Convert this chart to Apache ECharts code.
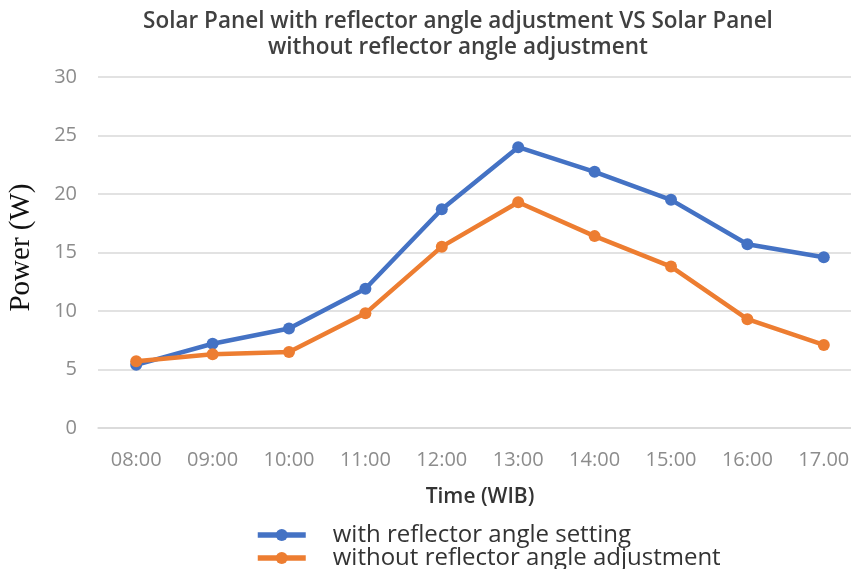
<!DOCTYPE html>
<html>
<head>
<meta charset="utf-8">
<script src="https://cdn.jsdelivr.net/npm/echarts@6/dist/echarts.min.js"></script>
<style>
html,body{margin:0;padding:0;background:#fff;}
#chart{width:851px;height:569px;}
</style>
</head>
<body>
<div id="chart"></div>
<script>
var categories = ["08:00","09:00","10:00","11:00","12:00","13:00","14:00","15:00","16:00","17.00"];
var withReflector = [5.4, 7.2, 8.5, 11.9, 18.7, 24.0, 21.9, 19.5, 15.7, 14.6];
var withoutReflector = [5.7, 6.3, 6.5, 9.8, 15.5, 19.3, 16.4, 13.8, 9.3, 7.1];
var seriesNames = ["with reflector angle setting", "without reflector angle adjustment"];
var titleText = "Solar Panel with reflector angle adjustment VS Solar Panel\nwithout reflector angle adjustment";

var legendBase = {
  orient: 'horizontal',
  left: 255,
  padding: 0,
  itemWidth: 48,
  itemHeight: 15,
  lineStyle: {width: 5.5},
  textStyle: {fontFamily: 'Open Sans', fontSize: 24, color: '#333333', lineHeight: 22, padding: [0,0,0,22]}
};

var chart = echarts.init(document.getElementById('chart'));
chart.setOption({
  backgroundColor: '#ffffff',
  animation: false,
  title: {
    text: titleText,
    left: 453,
    textAlign: 'center',
    top: 4,
    textStyle: {fontFamily: 'Open Sans', fontSize: 22.5, fontWeight: 600, color: '#404040', lineHeight: 26}
  },
  grid: {left: 98, top: 77, height: 351, right: -11, containLabel: false, outerBoundsMode: 'none'},
  xAxis: {
    type: 'category',
    data: categories,
    boundaryGap: true,
    name: 'Time (WIB)',
    nameLocation: 'middle',
    nameGap: 59,
    nameTextStyle: {fontFamily: 'Open Sans', fontSize: 21, fontWeight: 600, color: '#333333'},
    axisLine: {show: true, lineStyle: {color: '#d9d9d9', width: 1.5}},
    axisTick: {show: false},
    axisLabel: {fontFamily: 'Open Sans', fontSize: 20, color: '#8c8c8c', margin: 22}
  },
  yAxis: {
    type: 'value',
    min: 0, max: 30, interval: 5,
    name: 'Power (W)',
    nameLocation: 'middle',
    nameGap: 62,
    nameRotate: 90,
    nameTextStyle: {fontFamily: 'Liberation Serif', fontSize: 29, color: '#111111', padding: [0, 0, 0, 10]},
    axisLine: {show: false},
    axisTick: {show: false},
    splitLine: {lineStyle: {color: '#d9d9d9', width: 1.5}},
    axisLabel: {fontFamily: 'Open Sans', fontSize: 20, color: '#8c8c8c', margin: 21}
  },
  legend: [
    Object.assign({}, legendBase, {top: 523, data: [seriesNames[0]]}),
    Object.assign({}, legendBase, {top: 546, data: [seriesNames[1]]})
  ],
  series: [
    {
      name: seriesNames[0], type: 'line', data: withReflector,
      symbol: 'circle', symbolSize: 12,
      lineStyle: {color: '#4472C4', width: 4.5},
      itemStyle: {color: '#4472C4'}
    },
    {
      name: seriesNames[1], type: 'line', data: withoutReflector,
      symbol: 'circle', symbolSize: 12,
      lineStyle: {color: '#ED7D31', width: 4.5},
      itemStyle: {color: '#ED7D31'}
    }
  ]
});
</script>
</body>
</html>
